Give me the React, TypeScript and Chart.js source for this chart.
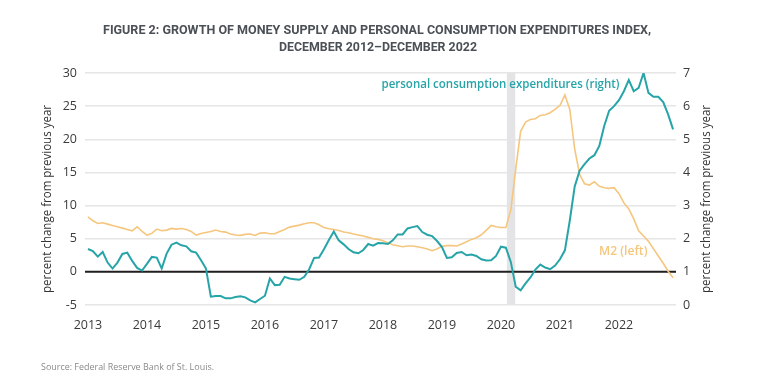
import React, { useEffect, useRef } from "react";
import { Chart, registerables } from "chart.js";

Chart.register(...registerables);

const TITLE_LINES = [
  "FIGURE 2: GROWTH OF MONEY SUPPLY AND PERSONAL CONSUMPTION EXPENDITURES INDEX,",
  "DECEMBER 2012\u2013DECEMBER 2022",
];
const AXIS_TITLE = "percent change from previous year";
const PCE_LABEL = "personal consumption expenditures (right)";
const M2_LABEL = "M2 (left)";
const SOURCE = "Source: Federal Reserve Bank of St. Louis.";

const YEAR_LABELS = ["2013", "2014", "2015", "2016", "2017", "2018", "2019", "2020", "2021", "2022"];
const LEFT_TICKS = [-5, 0, 5, 10, 15, 20, 25, 30];
const RIGHT_TICKS = [0, 1, 2, 3, 4, 5, 6, 7];

// Monthly, Jan 2013 – Dec 2022 (month index 0..119)
const M2 = [
  8.3, 7.7, 7.3, 7.4, 7.2, 7.0, 6.8, 6.6, 6.4, 6.2, 6.8, 6.1,
  5.55, 5.8, 6.45, 6.2, 6.3, 6.55, 6.45, 6.55, 6.4, 6.1, 5.55, 5.8,
  5.95, 6.1, 6.3, 6.1, 6.0, 5.7, 5.55, 5.5, 5.65, 5.7, 5.5, 5.85,
  5.9, 5.75, 5.75, 6.1, 6.4, 6.75, 6.9, 7.05, 7.25, 7.4, 7.4, 7.1,
  6.7, 6.5, 6.4, 6.25, 6.0, 5.9, 5.7, 5.55, 5.4, 5.2, 5.0, 4.9,
  4.7, 4.4, 4.1, 3.95, 3.8, 3.9, 3.9, 3.8, 3.65, 3.45, 3.2, 3.45,
  3.85, 3.95, 3.95, 3.9, 4.2, 4.55, 4.9, 5.15, 5.6, 6.25, 7.0, 6.8,
  6.7, 6.7, 9.3, 15.5, 21.2, 22.6, 23.0, 23.1, 23.6, 23.7, 24.0, 24.5,
  25.1, 26.7, 24.5, 18.5, 14.7, 13.3, 13.1, 13.6, 12.9, 12.7, 12.6, 12.7,
  11.8, 10.4, 9.5, 8.0, 6.2, 5.4, 4.6, 3.5, 2.4, 1.3, 0.1, -0.9,
];

const PCE = [
  1.69, 1.63, 1.46, 1.6, 1.28, 1.1, 1.28, 1.54, 1.58, 1.33, 1.12, 1.04,
  1.24, 1.45, 1.43, 1.1, 1.55, 1.82, 1.88, 1.8, 1.77, 1.62, 1.58, 1.35,
  1.1, 0.25, 0.27, 0.27, 0.2, 0.2, 0.24, 0.26, 0.23, 0.14, 0.08, 0.18,
  0.28, 0.8, 0.6, 0.61, 0.85, 0.8, 0.78, 0.76, 0.85, 1.08, 1.42, 1.43,
  1.68, 1.96, 2.22, 1.95, 1.83, 1.69, 1.59, 1.56, 1.66, 1.84, 1.79, 1.87,
  1.86, 1.84, 1.95, 2.13, 2.13, 2.31, 2.35, 2.38, 2.2, 2.12, 2.08, 1.93,
  1.75, 1.42, 1.44, 1.57, 1.6, 1.5, 1.52, 1.48, 1.38, 1.34, 1.35, 1.48,
  1.76, 1.73, 1.3, 0.55, 0.44, 0.65, 0.83, 1.07, 1.22, 1.13, 1.08, 1.19,
  1.38, 1.65, 2.55, 3.58, 4.05, 4.25, 4.42, 4.52, 4.8, 5.4, 5.86, 6.0,
  6.18, 6.45, 6.79, 6.45, 6.55, 7.0, 6.4, 6.28, 6.28, 6.12, 5.75, 5.3,
];

// recession shading, in month index (Feb–Apr 2020)
const RECESSION = [85.2, 86.9];

const TEAL = "#27a4a8";
const ORANGE = "#f5c67e";
const TICK_COLOR = "#3a3a3a";
const FONT = "'Open Sans', 'Noto Sans', sans-serif";

function fitText(
  ctx: CanvasRenderingContext2D,
  text: string,
  x: number,
  y: number,
  font: string,
  color: string,
  width: number,
  align: CanvasTextAlign,
  rotate = false
) {
  ctx.save();
  ctx.font = font;
  const w = ctx.measureText(text).width;
  const s = w > 0 ? width / w : 1;
  ctx.translate(x, y);
  if (rotate) ctx.rotate(-Math.PI / 2);
  ctx.scale(s, 1);
  ctx.fillStyle = color;
  ctx.textBaseline = "middle";
  ctx.textAlign = align;
  ctx.fillText(text, 0, 0);
  ctx.restore();
}

const extrasPlugin = {
  id: "extras",
  beforeDatasetsDraw(chart: any) {
    const { ctx, chartArea, scales } = chart;
    const xs = scales.x;
    ctx.save();
    const x0 = xs.getPixelForValue(RECESSION[0]);
    const x1 = xs.getPixelForValue(RECESSION[1]);
    ctx.fillStyle = "#e4e4e6";
    ctx.fillRect(x0, chartArea.top, x1 - x0, chartArea.bottom - chartArea.top);
    const y0 = scales.yL.getPixelForValue(0);
    ctx.strokeStyle = "#231f20";
    ctx.lineWidth = 2;
    ctx.beginPath();
    ctx.moveTo(chartArea.left, y0);
    ctx.lineTo(chartArea.right, y0);
    ctx.stroke();
    ctx.restore();
  },
  afterDraw(chart: any) {
    const { ctx } = chart;
    fitText(ctx, TITLE_LINES[0], 377, 31, `bold 12.5px Roboto, ${FONT}`, "#4b5056", 548, "center");
    fitText(ctx, TITLE_LINES[1], 378, 48, `bold 12.5px Roboto, ${FONT}`, "#4b5056", 198, "center");
    fitText(ctx, AXIS_TITLE, 48, 199, `12px ${FONT}`, "#333333", 188, "center", true);
    fitText(ctx, AXIS_TITLE, 707, 199, `12px ${FONT}`, "#333333", 188, "center", true);
    fitText(ctx, PCE_LABEL, 381.5, 84.5, `600 12.5px ${FONT}`, TEAL, 238, "left");
    fitText(ctx, M2_LABEL, 599, 251, `600 12.5px ${FONT}`, ORANGE, 48.5, "left");
    fitText(ctx, SOURCE, 41, 367, `9px ${FONT}`, "#8a8a8a", 173, "left");
  },
};

export default function App() {
  const canvasRef = useRef<HTMLCanvasElement | null>(null);

  useEffect(() => {
    const canvas = canvasRef.current;
    if (!canvas) return;
    const chart = new Chart(canvas, {
      type: "line",
      data: {
        datasets: [
          {
            label: PCE_LABEL,
            data: PCE.map((v, i) => ({ x: i, y: v })),
            yAxisID: "yR",
            borderColor: TEAL,
            borderWidth: 2,
            pointRadius: 0,
            tension: 0,
            order: 0,
          },
          {
            label: M2_LABEL,
            data: M2.map((v, i) => ({ x: i, y: v })),
            yAxisID: "yL",
            borderColor: ORANGE,
            borderWidth: 1.6,
            pointRadius: 0,
            tension: 0,
            order: 1,
          },
        ],
      },
      options: {
        responsive: false,
        maintainAspectRatio: false,
        animation: false,
        layout: { padding: { top: 73, left: 0, right: 0, bottom: 0 } },
        plugins: {
          legend: { display: false },
          tooltip: { enabled: false },
          title: { display: false },
        },
        scales: {
          x: {
            type: "linear",
            min: -0.6,
            max: 119.6,
            grid: { display: false, drawTicks: false },
            border: { display: false },
            afterBuildTicks: (scale: any) => {
              scale.ticks = YEAR_LABELS.map((_, k) => ({ value: k * 12 }));
            },
            afterFit: (scale: any) => {
              scale.height = 83;
            },
            ticks: {
              autoSkip: false,
              maxRotation: 0,
              padding: 13,
              color: TICK_COLOR,
              font: { family: FONT, size: 12.5 },
              callback: (v: any) => YEAR_LABELS[Math.round(Number(v) / 12)] ?? "",
            },
          },
          yL: {
            type: "linear",
            position: "left",
            min: -5,
            max: 30,
            grid: { color: "#e6e6e6", lineWidth: 1.5, drawTicks: false },
            border: { display: false },
            afterBuildTicks: (scale: any) => {
              scale.ticks = LEFT_TICKS.map((v) => ({ value: v }));
            },
            afterFit: (scale: any) => {
              scale.width = 85;
            },
            ticks: {
              padding: 8,
              color: TICK_COLOR,
              font: { family: FONT, size: 12.5 },
            },
          },
          yR: {
            type: "linear",
            position: "right",
            min: 0,
            max: 7,
            grid: { drawOnChartArea: false, drawTicks: false },
            border: { display: false },
            afterBuildTicks: (scale: any) => {
              scale.ticks = RIGHT_TICKS.map((v) => ({ value: v }));
            },
            afterFit: (scale: any) => {
              scale.width = 83;
            },
            ticks: {
              padding: 7,
              color: TICK_COLOR,
              font: { family: FONT, size: 12.5 },
            },
          },
        },
      },
      plugins: [extrasPlugin],
    } as any);
    return () => chart.destroy();
  }, []);

  return (
    <div style={{ position: "absolute", left: 0, top: 0, width: 759, height: 388, background: "#ffffff" }}>
      <canvas ref={canvasRef} width={759} height={388} style={{ display: "block", width: 759, height: 388 }} />
    </div>
  );
}
